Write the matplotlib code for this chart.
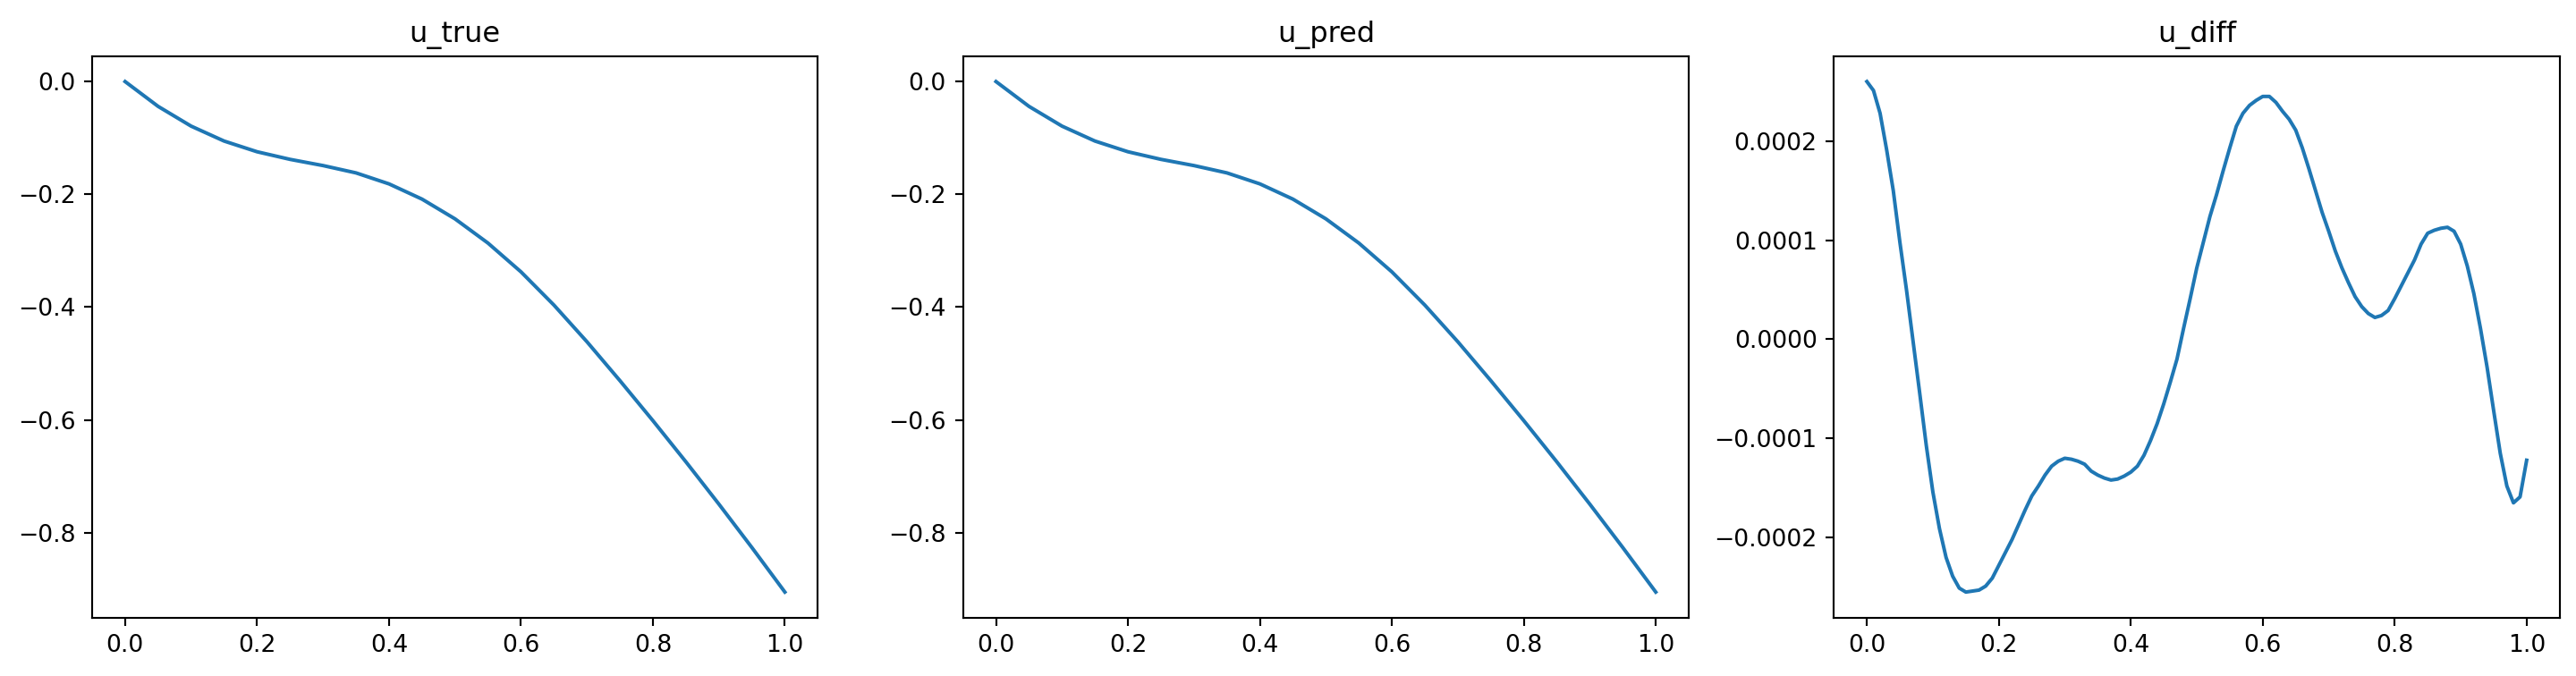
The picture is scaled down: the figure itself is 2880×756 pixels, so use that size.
import numpy as np
import matplotlib
matplotlib.use("Agg")
import matplotlib.pyplot as plt

# x grid for the true / predicted solution (read at 0.05 steps)
x_coarse = [0.00, 0.05, 0.10, 0.15, 0.20, 0.25, 0.30, 0.35, 0.40, 0.45, 0.50,
            0.55, 0.60, 0.65, 0.70, 0.75, 0.80, 0.85, 0.90, 0.95, 1.00]

u_true = [0.0000, -0.0440, -0.0790, -0.1055, -0.1245, -0.1380, -0.1490, -0.1620,
          -0.1815, -0.2085, -0.2435, -0.2865, -0.3375, -0.3965, -0.4615, -0.5305,
          -0.6015, -0.6745, -0.7495, -0.8265, -0.9055]

u_pred = [0.0000, -0.0440, -0.0790, -0.1055, -0.1245, -0.1380, -0.1490, -0.1620,
          -0.1815, -0.2085, -0.2435, -0.2865, -0.3375, -0.3965, -0.4615, -0.5305,
          -0.6015, -0.6745, -0.7495, -0.8265, -0.9055]

# x grid for the difference (read at 0.01 steps)
x_fine = [i / 100 for i in range(101)]

u_diff_e4 = [2.60, 2.51, 2.28, 1.91, 1.50, 0.98, 0.50, -0.02, -0.54, -1.07,
             -1.54, -1.91, -2.20, -2.39, -2.51, -2.55, -2.54, -2.53, -2.49, -2.41,
             -2.28, -2.15, -2.02, -1.87, -1.72, -1.58, -1.48, -1.37, -1.28, -1.23,
             -1.20, -1.21, -1.23, -1.26, -1.33, -1.37, -1.40, -1.42, -1.41, -1.38,
             -1.34, -1.28, -1.17, -1.02, -0.85, -0.65, -0.43, -0.20, 0.11, 0.41,
             0.72, 0.98, 1.24, 1.46, 1.70, 1.93, 2.15, 2.28, 2.36, 2.41,
             2.45, 2.45, 2.39, 2.30, 2.22, 2.11, 1.93, 1.72, 1.50, 1.28,
             1.09, 0.89, 0.72, 0.57, 0.43, 0.33, 0.26, 0.22, 0.24, 0.29,
             0.41, 0.54, 0.67, 0.80, 0.96, 1.07, 1.10, 1.12, 1.13, 1.09,
             0.96, 0.74, 0.46, 0.11, -0.28, -0.72, -1.15, -1.48, -1.65, -1.59,
             -1.22]

titles = ["u_true", "u_pred", "u_diff"]

fig, axes = plt.subplots(1, 3, figsize=(15, 3.9375), dpi=192)
fig.subplots_adjust(left=0.03576, right=0.99365, bottom=0.0864, top=0.9171, wspace=0.2)

axes[0].plot(x_coarse, u_true)
axes[1].plot(x_coarse, u_pred)
axes[2].plot(x_fine, np.array(u_diff_e4) * 1e-4)

for ax, t in zip(axes, titles):
    ax.set_title(t)
    ax.set_xticks([0.0, 0.2, 0.4, 0.6, 0.8, 1.0])

fig.savefig("out.png", dpi=192)
